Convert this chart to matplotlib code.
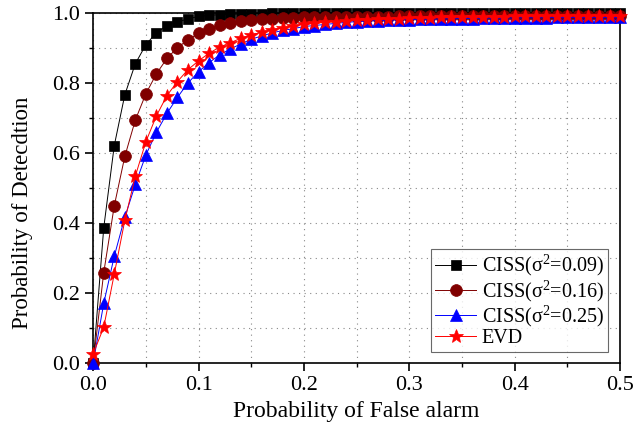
import matplotlib
matplotlib.use("Agg")
import matplotlib.pyplot as plt
from matplotlib.ticker import MultipleLocator

plt.rcParams["font.family"] = ["Liberation Serif", "DejaVu Serif"]
plt.rcParams["mathtext.fontset"] = "custom"
plt.rcParams["mathtext.rm"] = "Liberation Serif"
plt.rcParams["mathtext.it"] = "Liberation Serif"

# probability of false alarm, 0 .. 0.5 step 0.01
pfa = [i / 100 for i in range(51)]

pd_009 = [0.0, 0.386, 0.621, 0.766, 0.855, 0.909, 0.944, 0.963, 0.974, 0.983,
          0.990, 0.993, 0.995, 0.996, 0.997, 0.998, 0.998, 0.999, 0.999, 0.999,
          1.0, 1.0, 1.0, 1.0, 1.0, 1.0, 1.0, 1.0, 1.0, 1.0,
          1.0, 1.0, 1.0, 1.0, 1.0, 1.0, 1.0, 1.0, 1.0, 1.0,
          1.0, 1.0, 1.0, 1.0, 1.0, 1.0, 1.0, 1.0, 1.0, 1.0, 1.0]
pd_016 = [0.0, 0.258, 0.449, 0.590, 0.694, 0.769, 0.826, 0.870, 0.901, 0.923,
          0.942, 0.954, 0.965, 0.972, 0.978, 0.981, 0.983, 0.984, 0.985, 0.986,
          0.987, 0.987, 0.988, 0.988, 0.988, 0.989, 0.989, 0.989, 0.989, 0.990,
          0.990, 0.990, 0.990, 0.990, 0.990, 0.990, 0.990, 0.990, 0.990, 0.990,
          0.990, 0.990, 0.990, 0.990, 0.990, 0.990, 0.990, 0.990, 0.990, 0.990, 0.990]
pd_025 = [0.0, 0.170, 0.305, 0.416, 0.510, 0.594, 0.659, 0.713, 0.759, 0.800,
          0.832, 0.858, 0.880, 0.897, 0.911, 0.925, 0.934, 0.943, 0.950, 0.955,
          0.961, 0.964, 0.967, 0.970, 0.973, 0.975, 0.977, 0.978, 0.979, 0.980,
          0.981, 0.982, 0.982, 0.983, 0.983, 0.984, 0.984, 0.985, 0.985, 0.985,
          0.986, 0.986, 0.986, 0.986, 0.987, 0.987, 0.987, 0.987, 0.987, 0.987, 0.987]
pd_evd = [0.026, 0.102, 0.254, 0.407, 0.534, 0.632, 0.706, 0.764, 0.804, 0.838,
          0.863, 0.885, 0.902, 0.915, 0.927, 0.937, 0.945, 0.952, 0.958, 0.963,
          0.967, 0.970, 0.973, 0.975, 0.977, 0.979, 0.980, 0.982, 0.983, 0.984,
          0.985, 0.986, 0.986, 0.987, 0.987, 0.988, 0.988, 0.989, 0.989, 0.989,
          0.990, 0.990, 0.990, 0.990, 0.991, 0.991, 0.991, 0.991, 0.991, 0.991, 0.991]

labels = ["CISS(σ$^2$=0.09)", "CISS(σ$^2$=0.16)",
          "CISS(σ$^2$=0.25)", "EVD"]

fig = plt.figure(figsize=(6.34, 4.30), dpi=100)
ax = fig.add_axes([0.147, 0.156, 0.831, 0.814])

styles = [
    (pd_009, "s", "black", 7.5),
    (pd_016, "o", "#800000", 8.5),
    (pd_025, "^", "#0000ff", 9),
    (pd_evd, "*", "#ff0000", 10.5),
]
for (vals, mk, col, ms), lab in zip(styles, labels):
    ax.plot(pfa, vals, marker=mk, color=col, markersize=ms, lw=0.7,
            markeredgewidth=0.5, label=lab, clip_on=False, zorder=3)

ax.set_xlim(0, 0.5)
ax.set_ylim(0, 1.0)
ax.xaxis.set_major_locator(MultipleLocator(0.1))
ax.xaxis.set_minor_locator(MultipleLocator(0.05))
ax.yaxis.set_major_locator(MultipleLocator(0.2))
ax.yaxis.set_minor_locator(MultipleLocator(0.1))
ax.set_xticklabels(["%.1f" % v for v in ax.get_xticks()])
ax.set_yticklabels(["%.1f" % v for v in ax.get_yticks()])

ax.grid(True, which="both", color="#888888", linestyle=(0, (1, 4)), lw=0.8)
ax.tick_params(which="major", direction="out", length=6, width=1.2,
               labelsize=16, top=False, right=False)
ax.tick_params(which="minor", direction="out", length=3, width=1,
               top=False, right=False)
for sp in ax.spines.values():
    sp.set_linewidth(1.2)

ax.set_xlabel("Probability of False alarm", fontsize=17, labelpad=4)
ax.set_ylabel("Probability of Detecdtion", fontsize=16.5, labelpad=14)
ax.yaxis.label.set_y(0.43)

leg = ax.legend(loc="lower right", bbox_to_anchor=(0.977, 0.031), fontsize=14.5,
                frameon=True, fancybox=False, edgecolor="#444444",
                handlelength=2.0, borderpad=0.2, labelspacing=0.0,
                handletextpad=0.3, borderaxespad=0)
leg.get_frame().set_linewidth(0.8)

fig.savefig("out.png", dpi=100)
